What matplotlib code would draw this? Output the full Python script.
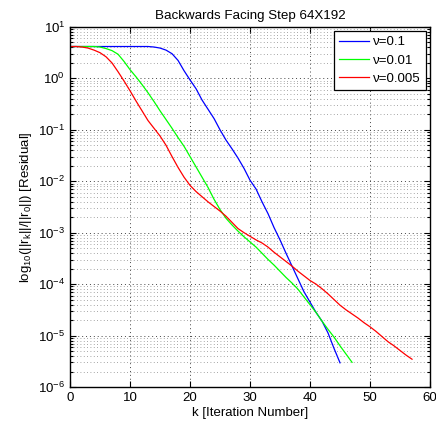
import matplotlib
matplotlib.use("Agg")
import matplotlib.pyplot as plt
import numpy as np
from matplotlib.ticker import FixedLocator, MultipleLocator, NullFormatter

plt.rcParams['font.family'] = ['Liberation Sans', 'DejaVu Sans']
plt.rcParams['mathtext.fontset'] = 'custom'
plt.rcParams['mathtext.rm'] = 'Liberation Sans'
plt.rcParams['mathtext.it'] = 'Liberation Sans'

# log10 of relative residual per iteration
k_blue = list(range(0, 46))
log_blue = [0.62, 0.62, 0.62, 0.62, 0.62, 0.62, 0.62, 0.62, 0.62, 0.62,
            0.62, 0.62, 0.62, 0.62, 0.61, 0.59, 0.55, 0.48, 0.35, 0.15,
            -0.03, -0.2, -0.42, -0.6, -0.78, -1.0, -1.2, -1.37, -1.55, -1.75,
            -1.98, -2.15, -2.4, -2.63, -2.9, -3.14, -3.4, -3.65, -3.9, -4.15,
            -4.35, -4.55, -4.72, -4.95, -5.25, -5.53]

k_green = list(range(0, 48))
log_green = [0.62, 0.62, 0.62, 0.62, 0.62, 0.61, 0.58, 0.54, 0.47, 0.33,
             0.17, 0.03, -0.12, -0.28, -0.45, -0.63, -0.8, -0.97, -1.15, -1.32,
             -1.52, -1.72, -1.92, -2.12, -2.35, -2.55, -2.72, -2.85, -2.97, -3.08,
             -3.18, -3.28, -3.4, -3.52, -3.63, -3.75, -3.87, -3.98, -4.1, -4.25,
             -4.4, -4.55, -4.72, -4.88, -5.03, -5.2, -5.36, -5.52]

k_red = list(range(0, 58))
log_red = [0.62, 0.62, 0.61, 0.59, 0.55, 0.5, 0.42, 0.3, 0.13, -0.05,
           -0.24, -0.44, -0.63, -0.82, -0.97, -1.12, -1.3, -1.52, -1.73, -1.92,
           -2.08, -2.2, -2.3, -2.4, -2.49, -2.58, -2.68, -2.8, -2.92, -3.0,
           -3.07, -3.14, -3.2, -3.28, -3.38, -3.47, -3.56, -3.65, -3.75, -3.84,
           -3.93, -4.0, -4.09, -4.19, -4.3, -4.41, -4.5, -4.58, -4.66, -4.75,
           -4.83, -4.92, -5.02, -5.12, -5.2, -5.29, -5.38, -5.46]

labels = ["ν=0.1", "ν=0.01", "ν=0.005"]
colors = ["#0000ff", "#00ff00", "#ff0000"]
decades = list(range(-6, 2))

fig = plt.figure(figsize=(4.36, 4.24), dpi=100)
ax = fig.add_axes([0.1606, 0.0873, 0.8257, 0.8491])

series = [(k_blue, log_blue), (k_green, log_green), (k_red, log_red)]
for (k, lg), lab, col in zip(series, labels, colors):
    ax.semilogy(k, 10.0 ** np.array(lg), color=col, lw=0.9, label=lab)

ax.set_xlim(0, 60)
ax.set_ylim(1e-6, 1e1)
ax.xaxis.set_major_locator(MultipleLocator(10))
ax.yaxis.set_major_locator(FixedLocator([10.0 ** d for d in decades]))
minor = [m * 10.0 ** d for d in decades[:-1] for m in range(2, 10)]
ax.yaxis.set_minor_locator(FixedLocator(minor))
ax.yaxis.set_minor_formatter(NullFormatter())

# sparse dotted grid, minor lines only along y
ax.grid(True, which='major', linestyle=(0, (1, 3)), color='#444444', lw=0.7)
ax.grid(True, which='minor', axis='y', linestyle=(0, (1, 3)), color='#888888', lw=0.6)

ax.tick_params(which='both', direction='in', top=True, right=True,
               labelsize=9.5, width=0.8)
ax.tick_params(which='major', length=4)
ax.tick_params(which='minor', length=2)
for s in ax.spines.values():
    s.set_linewidth(1.0)

ax.set_title("Backwards Facing Step 64X192", fontsize=9.6, pad=6)
ax.set_xlabel("k [Iteration Number]", fontsize=9.5, labelpad=2)
ax.set_ylabel(r"log$_{10}$(||r$_k$||/||r$_0$||) [Residual]", fontsize=9.5, labelpad=3)

leg = ax.legend(loc='upper right', fontsize=9.5, fancybox=False, framealpha=1,
                edgecolor='black', borderaxespad=0.3, handlelength=2.3,
                handletextpad=0.3, labelspacing=0.45, borderpad=0.4)
leg.get_frame().set_linewidth(0.9)

fig.savefig("out.png", dpi=100)
